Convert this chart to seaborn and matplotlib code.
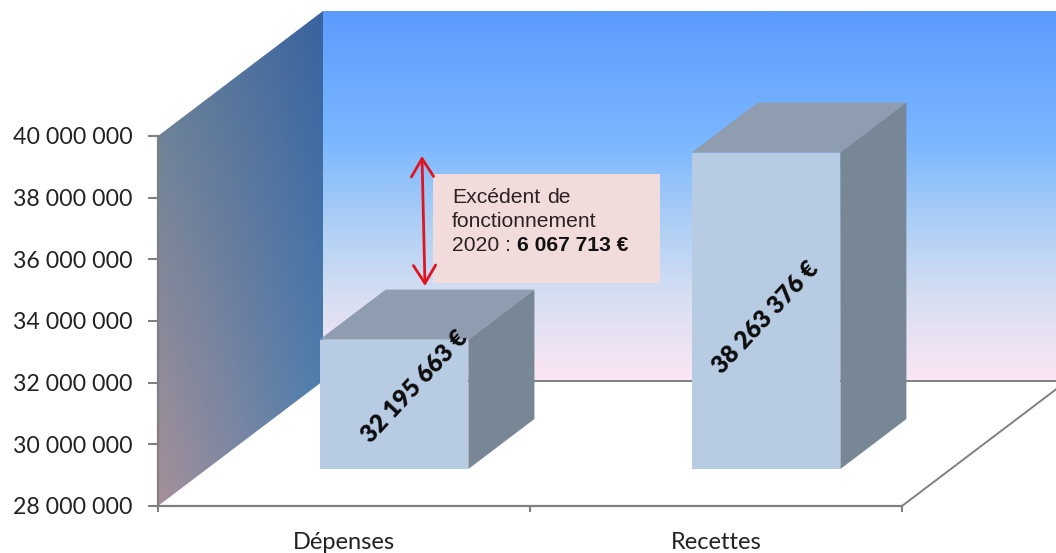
import numpy as np
import pandas as pd
import matplotlib
matplotlib.use("Agg")
import matplotlib.pyplot as plt
from matplotlib.colors import LinearSegmentedColormap, to_rgb
from matplotlib.patches import Polygon, Rectangle
from matplotlib.transforms import IdentityTransform
import seaborn as sns

categories = ["Dépenses", "Recettes"]
amounts = [32195663, 38263376]
y_ticks = [28000000, 30000000, 32000000, 34000000, 36000000, 38000000, 40000000]


def spaced(n):
    return f"{n:,}".replace(",", " ")


W, H = 1056, 553
sns.set_theme(style="white")
plt.rcParams["font.family"] = ["Lato", "DejaVu Sans"]
fig = plt.figure(figsize=(W / 100, H / 100), dpi=100, facecolor="white")


def axes_from_pixels(left, top, right, bottom):
    return fig.add_axes([left / W, 1 - bottom / H, (right - left) / W, (bottom - top) / H])


# Front plane of the chart box and the depth of the box and bars, in pixels
LEFT, RIGHT, TOP, BOTTOM = 158, 902, 136, 506
BOX_DX, BOX_DY = 165, 125
BAR_SHIFT_X, BAR_SHIFT_Y = 50, 37
BAR_DX, BAR_DY = 66, 50
GREY = "#808080"

# Pixel-space backdrop: walls and floor
bg = fig.add_axes([0, 0, 1, 1], zorder=0)
bg.axis("off")

wall_cmap = LinearSegmentedColormap.from_list(
    "wall",
    [(0.00, "#5c9bff"), (0.35, "#7ab7ff"), (0.55, "#a8cdf6"),
     (0.78, "#d8dff2"), (1.00, "#fce6f5")],
)
bx0, bx1 = LEFT + BOX_DX, RIGHT + BOX_DX
by0, by1 = TOP - BOX_DY, BOTTOM - BOX_DY
bg.imshow(np.linspace(0, 1, 256)[:, None], cmap=wall_cmap, aspect="auto",
          extent=(bx0, bx1, by1, by0), zorder=1)

# Side wall shaded between its four corners
xs = np.arange(LEFT, bx0 + 1)
ys = np.arange(by0, BOTTOM + 1)
gx, gy = np.meshgrid(xs, ys)
t = (gx - LEFT) / BOX_DX
s = np.clip((gy - (TOP - t * BOX_DY)) / (BOTTOM - TOP), 0, 1)
c_tl, c_tr = np.array(to_rgb("#6f8499")), np.array(to_rgb("#38639f"))
c_bl, c_br = np.array(to_rgb("#a5909a")), np.array(to_rgb("#4c7dad"))
side_rgb = (((1 - t) * (1 - s))[..., None] * c_tl + (t * (1 - s))[..., None] * c_tr
            + ((1 - t) * s)[..., None] * c_bl + (t * s)[..., None] * c_br)
side = bg.imshow(side_rgb, aspect="auto", extent=(LEFT, bx0, BOTTOM, by0), zorder=2)
side_clip = Polygon([(LEFT, TOP), (bx0, by0), (bx0, by1), (LEFT, BOTTOM)],
                    transform=bg.transData, facecolor="none", edgecolor="none")
bg.add_patch(side_clip)
side.set_clip_path(side_clip)

# Floor outline
bg.plot([bx0, W + 20], [by1, by1], color=GREY, lw=1.4, zorder=3)
bg.plot([RIGHT, bx1], [BOTTOM, by1], color=GREY, lw=1.4, zorder=3)
bg.set_xlim(0, W)
bg.set_ylim(H, 0)

# Front plane: value axis and category axis
ax = axes_from_pixels(LEFT, TOP, RIGHT, BOTTOM)
ax.set_zorder(1)
ax.patch.set_alpha(0)
ax.set_xlim(-0.5, 1.5)
ax.set_ylim(y_ticks[0], y_ticks[-1])
ax.set_yticks(y_ticks)
ax.set_yticklabels([spaced(v) for v in y_ticks], fontsize=16.7, color="#222222")
ax.set_xticks([0, 1])
ax.set_xticklabels(categories, fontsize=17, color="#222222")
ax.set_xticks([-0.5, 0.5, 1.5], minor=True)
ax.tick_params(axis="y", left=True, length=7.5, width=1.5, color=GREY, pad=11)
ax.tick_params(axis="x", which="major", bottom=False, pad=12.5)
ax.tick_params(axis="x", which="minor", bottom=True, length=4.5, width=1.5, color=GREY)
for name, spine in ax.spines.items():
    spine.set_visible(name in ("left", "bottom"))
    spine.set_color(GREY)
    spine.set_linewidth(1.6)

# Bars sit on a plane pushed back into the box, on the same value scale
bar_ax = axes_from_pixels(LEFT + BAR_SHIFT_X, TOP - BAR_SHIFT_Y,
                          RIGHT + BAR_SHIFT_X, BOTTOM - BAR_SHIFT_Y)
bar_ax.set_zorder(2)
bar_ax.patch.set_alpha(0)
frame = pd.DataFrame({"poste": categories, "montant": amounts})
sns.barplot(data=frame, x="poste", y="montant", ax=bar_ax, color="#b7cbe3",
            saturation=1, width=0.4, linewidth=0, zorder=5)
bar_ax.set_xlim(-0.5, 1.5)
bar_ax.set_ylim(y_ticks[0], y_ticks[-1])
bar_ax.axis("off")

for bar in list(bar_ax.patches):
    x0, x1 = bar.get_x(), bar.get_x() + bar.get_width()
    (px0, py0), (px1, py1) = bar_ax.transData.transform(
        [(x0, y_ticks[0]), (x1, bar.get_height())])
    top_face = [(px0, py1), (px1, py1), (px1 + BAR_DX, py1 + BAR_DY), (px0 + BAR_DX, py1 + BAR_DY)]
    side_face = [(px1, py0), (px1 + BAR_DX, py0 + BAR_DY), (px1 + BAR_DX, py1 + BAR_DY), (px1, py1)]
    bar_ax.add_patch(Polygon(top_face, transform=IdentityTransform(), facecolor="#8e9eb0",
                             edgecolor="none", clip_on=False, zorder=4))
    bar_ax.add_patch(Polygon(side_face, transform=IdentityTransform(), facecolor="#778796",
                             edgecolor="none", clip_on=False, zorder=4))

# Value labels run diagonally across the bars
label_offsets = [(21, 18), (0, -7)]
for i, (value, (ox, oy)) in enumerate(zip(amounts, label_offsets)):
    mid = y_ticks[0] + (value - y_ticks[0]) / 2
    bar_ax.annotate(f"{spaced(value)} €", (i, mid), xytext=(ox, oy), textcoords="offset pixels",
                    rotation=47, rotation_mode="anchor", ha="center", va="center",
                    fontsize=17.5, fontweight="heavy", color="#0d0d0d", zorder=8,
                    annotation_clip=False)

# Surplus callout
surplus = amounts[1] - amounts[0]
note = fig.add_axes([0, 0, 1, 1], zorder=3)
note.axis("off")
note.set_xlim(0, W)
note.set_ylim(H, 0)
note.add_patch(Rectangle((433, 174), 227, 109, facecolor="#f2dcdb", edgecolor="none"))
note_font = dict(family=["Liberation Sans", "DejaVu Sans"], fontsize=15.2, color="#2a2222",
                 va="baseline", ha="left")
note.text(452, 203, "Excédent", **note_font)
note.text(547, 203, "de", **note_font)
note.text(452, 227, "fonctionnement", **note_font)
note.text(452, 251, "2020 :", **note_font)
note.text(517, 251, f"{spaced(surplus)} €", fontweight="bold",
          **{**note_font, "color": "#111111"})
note.annotate("", xy=(422, 156), xytext=(425, 286),
              arrowprops=dict(arrowstyle="<->,head_length=1.3,head_width=0.8", mutation_scale=10,
                              color="#e0141e", lw=2.0, shrinkA=0, shrinkB=0))

fig.savefig("out.png", dpi=100, facecolor="white")
